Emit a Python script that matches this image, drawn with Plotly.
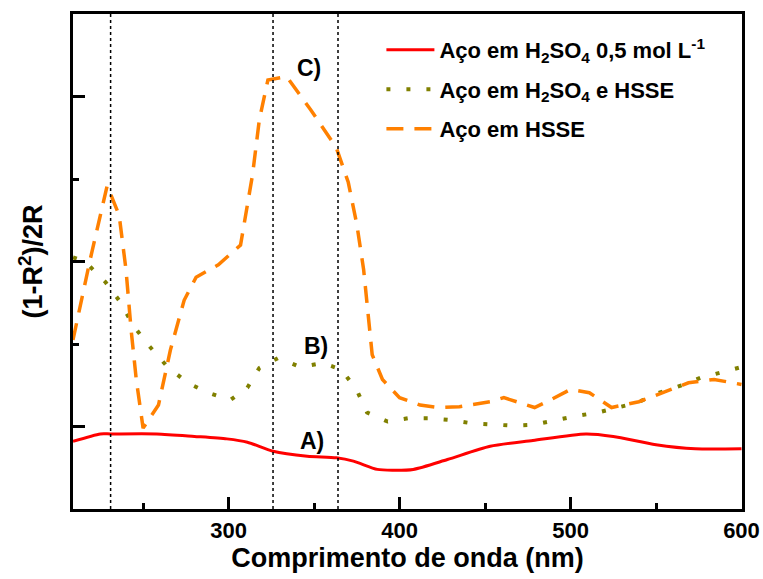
import plotly.graph_objects as go

# Wavelength (nm) and (1-R^2)/2R values for each sample
wl_a = [209, 225, 231, 258, 280, 299, 311, 326, 346, 363, 373, 387, 396,
        408, 428, 453, 478, 509, 525, 550, 573, 600]
val_a = [0.182, 0.191, 0.191, 0.191, 0.188, 0.185, 0.181, 0.170, 0.164, 0.162, 0.158, 0.148, 0.147,
         0.148, 0.160, 0.176, 0.183, 0.191, 0.188, 0.178, 0.173, 0.173]

wl_b = [209, 216, 228, 237, 244, 253, 264, 276, 288, 301, 311, 318, 329, 342, 355, 366,
        375, 381, 393, 405, 418, 429, 442, 454, 466, 478, 491, 504, 516, 527, 539,
        552, 565, 576, 589, 600]
val_b = [0.405, 0.400, 0.375, 0.350, 0.323, 0.299, 0.273, 0.253, 0.241, 0.232, 0.247, 0.271,
         0.283, 0.272, 0.277, 0.269, 0.244, 0.217, 0.206, 0.210, 0.210, 0.208, 0.204, 0.203,
         0.201, 0.202, 0.208, 0.213, 0.217, 0.223, 0.229, 0.241, 0.250, 0.259, 0.266, 0.272]

wl_c = [209, 219, 229, 236, 240, 243, 246, 250, 259, 266, 274, 281, 294, 307, 314, 318,
        323, 334, 348, 363, 370, 375, 379, 384, 390, 400, 412, 423, 435, 453, 461, 479,
        488, 500, 511, 524, 540, 555, 569, 584, 600]
val_c = [0.305, 0.402, 0.492, 0.456, 0.390, 0.317, 0.257, 0.198, 0.226, 0.293, 0.353, 0.381,
         0.396, 0.420, 0.505, 0.572, 0.620, 0.624, 0.584, 0.538, 0.496, 0.445, 0.390, 0.287,
         0.257, 0.235, 0.226, 0.223, 0.224, 0.230, 0.235, 0.223, 0.232, 0.245, 0.241, 0.223,
         0.230, 0.242, 0.253, 0.257, 0.251]

names = ["Aço em H<sub>2</sub>SO<sub>4</sub> 0,5 mol L<sup>-1</sup>",
         "Aço em H<sub>2</sub>SO<sub>4</sub> e HSSE",
         "Aço em HSSE"]

# Reference wavelengths marked with vertical dotted lines
marker_wl = [231, 326, 364]

# Curve labels
label_text = ["A)", "B)", "C)"]
label_wl = [349, 351, 347]
label_val = [0.182, 0.297, 0.635]

x_ticks = [300, 400, 500, 600]

FONT = "Liberation Sans, Arial, sans-serif"

fig = go.Figure()
fig.add_trace(go.Scatter(x=wl_a, y=val_a, mode="lines", name=names[0], legendgroup="a",
                         line=dict(color="#ff0000", width=3, shape="spline", smoothing=0.7)))
fig.add_trace(go.Scatter(x=wl_b, y=val_b, mode="lines", name=names[1], legendgroup="b",
                         line=dict(color="#808000", width=4, dash="4px,16px")))
fig.add_trace(go.Scatter(x=wl_c, y=val_c, mode="lines", name=names[2], legendgroup="c",
                         line=dict(color="#ff8000", width=3.5, dash="17px,11px")))

for w in marker_wl:
    fig.add_shape(type="line", xref="x", yref="paper", x0=w, x1=w, y0=0, y1=1,
                  line=dict(color="black", width=1.5, dash="dot"))

for t, x, y in zip(label_text, label_wl, label_val):
    fig.add_annotation(x=x, y=y, text=t, showarrow=False,
                       font=dict(family=FONT, size=23, color="black", weight=700))

axis_common = dict(showline=True, linecolor="black", linewidth=3, mirror=True,
                   showgrid=False, zeroline=False, ticks="inside", tickcolor="black",
                   tickwidth=2.5, automargin=False)

fig.update_layout(
    width=763, height=579,
    margin=dict(l=73, r=21, t=14, b=70),
    plot_bgcolor="white", paper_bgcolor="white",
    font=dict(family=FONT, color="black", weight=700),
    showlegend=True,
    legend=dict(x=0.461, y=0.97, xanchor="left", yanchor="top",
                bgcolor="rgba(0,0,0,0)", tracegroupgap=8, itemwidth=48,
                font=dict(family=FONT, size=22, color="black", weight=700)),
    xaxis=dict(range=[209, 600.3], tickvals=x_ticks, ticklen=12,
               minor=dict(tickvals=[250, 350, 450, 550], ticklen=6, ticks="inside",
                          tickcolor="black", tickwidth=2.5),
               tickfont=dict(family=FONT, size=22, weight=700),
               title=dict(text="Comprimento de onda (nm)", standoff=4,
                          font=dict(family=FONT, size=27, weight=700)),
               **axis_common),
    yaxis=dict(range=[0.1, 0.7], tickvals=[0.2, 0.4, 0.6], ticklen=12, showticklabels=False,
               minor=dict(tickvals=[0.3, 0.5], ticklen=6, ticks="inside",
                          tickcolor="black", tickwidth=2.5),
               title=dict(text="(1-R<sup>2</sup>)/2R", standoff=20,
                          font=dict(family=FONT, size=27, weight=700)),
               **axis_common),
)

fig.write_html("out.html")
